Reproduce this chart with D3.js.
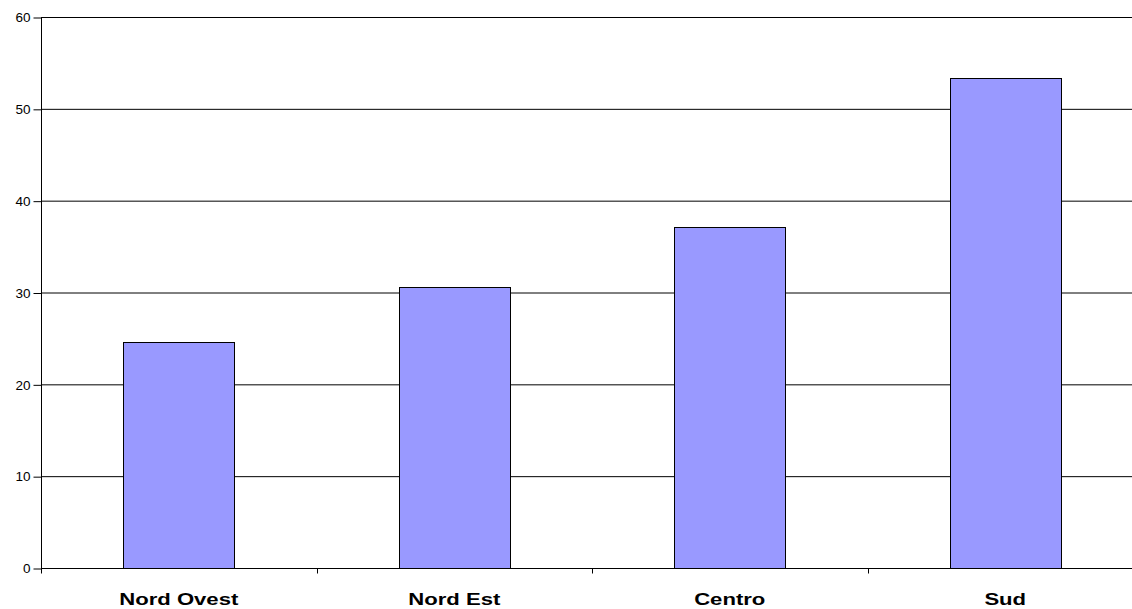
<!DOCTYPE html>
<html><head><meta charset="utf-8">
<script src="https://cdn.jsdelivr.net/npm/d3@7"></script>
<style>body{margin:0;background:#fff}svg{display:block}</style>
</head><body>
<svg id="c" width="1132" height="609"></svg>
<script>
const categories = ["Nord Ovest", "Nord Est", "Centro", "Sud"];
const values = [24.6, 30.6, 37.1, 53.4];
const yTicks = [0, 10, 20, 30, 40, 50, 60];

const svg = d3.select("#c");
const m = {l: 41, r: 1143, t: 17, b: 568};
const x = d3.scaleBand().domain(categories).range([m.l, m.r]).paddingInner(0.598).paddingOuter(0.299);
const xb = d3.scaleBand().domain(categories).range([m.l, m.r]);
const y = d3.scaleLinear().domain([0, 60]).range([m.b, m.t]);

// gridlines
svg.append("g").selectAll("line").data(yTicks.filter(d => d > 0)).join("line")
  .attr("x1", m.l).attr("x2", m.r).attr("y1", d => y(d) + 0.5).attr("y2", d => y(d) + 0.5)
  .attr("stroke", "#000").attr("stroke-width", 1);

// bars
svg.append("g").selectAll("rect").data(values).join("rect")
  .attr("x", (d, i) => Math.round(x(categories[i])) + 0.5)
  .attr("y", d => Math.round(y(d)) + 0.5)
  .attr("width", Math.round(x.bandwidth()))
  .attr("height", d => Math.round(y(0)) - Math.round(y(d)))
  .attr("fill", "#9999FF").attr("stroke", "#000").attr("stroke-width", 1);

// y axis
const ya = svg.append("g").attr("transform", `translate(${m.l + 0.5},0.5)`)
  .call(d3.axisLeft(y).tickValues(yTicks).tickSize(8).tickPadding(3).tickFormat(d3.format("d")));
ya.select(".domain").attr("d", `M0,${m.t}V${m.b + 5}`).attr("stroke", "#000");
ya.selectAll("text").attr("font-family", "Liberation Sans, Arial, sans-serif").attr("font-size", 13.5).attr("fill", "#000");

// x axis
const xa = svg.append("g").attr("transform", `translate(0,${m.b + 0.5})`);
xa.append("line").attr("x1", m.l).attr("x2", m.r).attr("stroke", "#000");
xa.selectAll("line.t").data(categories.slice(1)).join("line").attr("class", "t")
  .attr("x1", d => Math.round(xb(d)) + 0.5).attr("x2", d => Math.round(xb(d)) + 0.5)
  .attr("y1", 0).attr("y2", 5).attr("stroke", "#000");
xa.selectAll("text").data(categories).join("text")
  .attr("transform", d => `translate(${xb(d) + xb.bandwidth() / 2},36) scale(1.3,1)`)
  .attr("text-anchor", "middle")
  .attr("font-family", "Liberation Sans, Arial, sans-serif").attr("font-weight", "bold").attr("font-size", 17)
  .text(d => d);
</script>
</body></html>
